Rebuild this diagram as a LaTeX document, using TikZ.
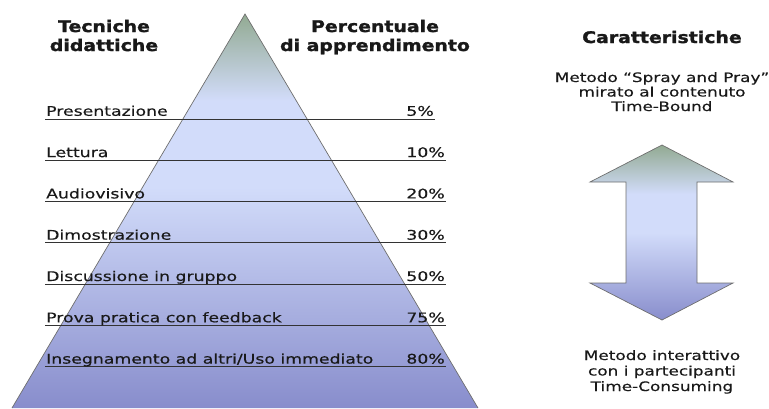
\documentclass[tikz,border=0pt]{standalone}
\usepackage{fontspec}
\setmainfont{DejaVu Sans}[FakeStretch=1.3,FakeBold=0.4]
\newfontfamily\hdrfont{DejaVu Sans}[FakeStretch=1.18,FakeBold=1.6]
\definecolor{tgreen}{RGB}{146,170,146}
\definecolor{tlight}{RGB}{210,220,250}
\definecolor{tdark}{RGB}{136,141,204}
\definecolor{txt}{RGB}{25,25,25}
\definecolor{edge}{RGB}{110,110,110}
\pgfdeclareverticalshading{pyr}{100bp}{color(0bp)=(tdark); color(25bp)=(tdark); color(53bp)=(tlight); color(64bp)=(tlight); color(75bp)=(tgreen); color(100bp)=(tgreen)}
\pgfdeclareverticalshading{arr}{100bp}{color(0bp)=(tdark); color(25bp)=(tdark); color(50bp)=(tlight); color(61bp)=(tlight); color(75bp)=(tgreen); color(100bp)=(tgreen)}
\tikzset{
  hdr/.style={font=\hdrfont\bfseries\fontsize{16}{18}\selectfont, text=txt, inner sep=0pt, anchor=base},
  item/.style={font=\fontsize{13.3}{15}\selectfont, text=txt, inner sep=0pt, anchor=base west},
  pct/.style={font=\fontsize{13.3}{15}\selectfont, text=txt, inner sep=0pt, anchor=base east},
  desc/.style={font=\fontsize{13}{15}\selectfont, text=txt, inner sep=0pt, anchor=base},
  rule/.style={draw=black!80, line width=0.9pt},
}
\begin{document}
\begin{tikzpicture}[x=1pt,y=-1pt]
\useasboundingbox (0,0) rectangle (769,408);
% pyramid
\coordinate (apex) at (245,14);
\coordinate (bl) at (12,408);
\coordinate (br) at (478,408);
\shade[shading=pyr] (apex) -- (br) -- (bl) -- cycle;
\draw[edge, line width=0.7pt] (bl) -- (apex) -- (br);
% headers
\node[hdr] (h1a) at (104,32) {Tecniche};
\node[hdr] (h1b) at (104,51) {didattiche};
\node[hdr] (h2a) at (375,32) {Percentuale};
\node[hdr] (h2b) at (375,51) {di apprendimento};
\node[hdr] (h3) at (662,43) {Caratteristiche};
% rows
\foreach \i/\t/\p/\e [count=\k] in {
  0/{Presentazione}/{5\%}/435,
  1/{Lettura}/{10\%}/446,
  2/{Audiovisivo}/{20\%}/446,
  3/{Dimostrazione}/{30\%}/446,
  4/{Discussione in gruppo}/{50\%}/446,
  5/{Prova pratica con feedback}/{75\%}/446,
  6/{Insegnamento ad altri/Uso immediato}/{80\%}/446}{
  \pgfmathsetmacro{\yy}{119+41.3*\i}
  \pgfmathsetmacro{\ty}{\yy-3.2}
  \pgfmathsetmacro{\px}{\e-1}
  \coordinate (la\k) at (45,\yy);
  \coordinate (lb\k) at (\e,\yy);
  \draw[rule] (la\k) -- (lb\k);
  \node[item] (t\k) at (46,\ty) {\t};
  \node[pct] (p\k) at (\px,\ty) {\p};
}
% characteristics
\node[desc] (d1) at (662,82) {Metodo “Spray and Pray”};
\node[desc] (d2) at (662,96.5) {mirato al contenuto};
\node[desc] (d3) at (662,111) {Time-Bound};
\node[desc] (d4) at (662,360) {Metodo interattivo};
\node[desc] (d5) at (662,375.5) {con i partecipanti};
\node[desc] (d6) at (662,391) {Time-Consuming};
% double arrow
\shade[shading=arr]
  (662,145) -- (733,182) -- (697,182) -- (697,283) -- (733,283) -- (662,320)
  -- (590,283) -- (626,283) -- (626,182) -- (590,182) -- cycle;
\draw[edge, line width=0.7pt]
  (662,145) -- (733,182) -- (697,182) -- (697,283) -- (733,283) -- (662,320)
  -- (590,283) -- (626,283) -- (626,182) -- (590,182) -- cycle;
\end{tikzpicture}
\end{document}
